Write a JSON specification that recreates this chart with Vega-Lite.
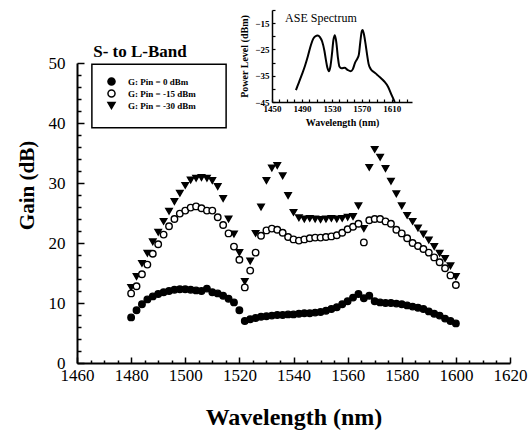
{
  "$schema": "https://vega.github.io/schema/vega-lite/v6.json",
  "width": 433,
  "height": 300,
  "autosize": {"type": "none"},
  "padding": {"left": 77, "top": 63, "right": 22, "bottom": 73},
  "background": "white",
  "config": {
    "view": {"stroke": null},
    "font": "Liberation Serif",
    "axis": {"grid": false, "ticks": true, "domainColor": "black", "tickColor": "black", "tickOpacity": 1, "labelColor": "black", "titleColor": "black", "labelFont": "Liberation Serif", "titleFont": "Liberation Serif"}
  },
  "datasets": {
    "gain": [
      {"series": "G: Pin = -30 dBm", "wavelength": 1480, "gain": 12.6},
      {"series": "G: Pin = -30 dBm", "wavelength": 1482, "gain": 14.4},
      {"series": "G: Pin = -30 dBm", "wavelength": 1484, "gain": 16.6},
      {"series": "G: Pin = -30 dBm", "wavelength": 1486, "gain": 18.3},
      {"series": "G: Pin = -30 dBm", "wavelength": 1488, "gain": 20.2},
      {"series": "G: Pin = -30 dBm", "wavelength": 1490, "gain": 21.8},
      {"series": "G: Pin = -30 dBm", "wavelength": 1492, "gain": 23.6},
      {"series": "G: Pin = -30 dBm", "wavelength": 1494, "gain": 25.3},
      {"series": "G: Pin = -30 dBm", "wavelength": 1496, "gain": 26.9},
      {"series": "G: Pin = -30 dBm", "wavelength": 1498, "gain": 28.3},
      {"series": "G: Pin = -30 dBm", "wavelength": 1500, "gain": 29.6},
      {"series": "G: Pin = -30 dBm", "wavelength": 1502, "gain": 30.5},
      {"series": "G: Pin = -30 dBm", "wavelength": 1504, "gain": 30.8},
      {"series": "G: Pin = -30 dBm", "wavelength": 1506, "gain": 30.9},
      {"series": "G: Pin = -30 dBm", "wavelength": 1508, "gain": 30.8},
      {"series": "G: Pin = -30 dBm", "wavelength": 1510, "gain": 30.4},
      {"series": "G: Pin = -30 dBm", "wavelength": 1512, "gain": 29.4},
      {"series": "G: Pin = -30 dBm", "wavelength": 1514, "gain": 27.4},
      {"series": "G: Pin = -30 dBm", "wavelength": 1516, "gain": 24.0},
      {"series": "G: Pin = -30 dBm", "wavelength": 1518, "gain": 21.5},
      {"series": "G: Pin = -30 dBm", "wavelength": 1520, "gain": 18.4},
      {"series": "G: Pin = -30 dBm", "wavelength": 1522, "gain": 13.6},
      {"series": "G: Pin = -30 dBm", "wavelength": 1524, "gain": 17.0},
      {"series": "G: Pin = -30 dBm", "wavelength": 1526, "gain": 21.6},
      {"series": "G: Pin = -30 dBm", "wavelength": 1528, "gain": 26.0},
      {"series": "G: Pin = -30 dBm", "wavelength": 1530, "gain": 30.4},
      {"series": "G: Pin = -30 dBm", "wavelength": 1532, "gain": 32.5},
      {"series": "G: Pin = -30 dBm", "wavelength": 1534, "gain": 32.9},
      {"series": "G: Pin = -30 dBm", "wavelength": 1536, "gain": 31.2},
      {"series": "G: Pin = -30 dBm", "wavelength": 1538, "gain": 27.9},
      {"series": "G: Pin = -30 dBm", "wavelength": 1540, "gain": 25.1},
      {"series": "G: Pin = -30 dBm", "wavelength": 1542, "gain": 24.2},
      {"series": "G: Pin = -30 dBm", "wavelength": 1544, "gain": 24.0},
      {"series": "G: Pin = -30 dBm", "wavelength": 1546, "gain": 24.1},
      {"series": "G: Pin = -30 dBm", "wavelength": 1548, "gain": 24.0},
      {"series": "G: Pin = -30 dBm", "wavelength": 1550, "gain": 23.9},
      {"series": "G: Pin = -30 dBm", "wavelength": 1552, "gain": 24.0},
      {"series": "G: Pin = -30 dBm", "wavelength": 1554, "gain": 24.1},
      {"series": "G: Pin = -30 dBm", "wavelength": 1556, "gain": 24.0},
      {"series": "G: Pin = -30 dBm", "wavelength": 1558, "gain": 24.1},
      {"series": "G: Pin = -30 dBm", "wavelength": 1560, "gain": 24.3},
      {"series": "G: Pin = -30 dBm", "wavelength": 1562, "gain": 24.4},
      {"series": "G: Pin = -30 dBm", "wavelength": 1564, "gain": 26.2},
      {"series": "G: Pin = -30 dBm", "wavelength": 1566, "gain": 22.4},
      {"series": "G: Pin = -30 dBm", "wavelength": 1568, "gain": 32.6},
      {"series": "G: Pin = -30 dBm", "wavelength": 1570, "gain": 35.6},
      {"series": "G: Pin = -30 dBm", "wavelength": 1572, "gain": 34.3},
      {"series": "G: Pin = -30 dBm", "wavelength": 1574, "gain": 32.4},
      {"series": "G: Pin = -30 dBm", "wavelength": 1576, "gain": 30.3},
      {"series": "G: Pin = -30 dBm", "wavelength": 1578, "gain": 28.2},
      {"series": "G: Pin = -30 dBm", "wavelength": 1580, "gain": 26.2},
      {"series": "G: Pin = -30 dBm", "wavelength": 1582, "gain": 24.6},
      {"series": "G: Pin = -30 dBm", "wavelength": 1584, "gain": 23.6},
      {"series": "G: Pin = -30 dBm", "wavelength": 1586, "gain": 22.5},
      {"series": "G: Pin = -30 dBm", "wavelength": 1588, "gain": 21.5},
      {"series": "G: Pin = -30 dBm", "wavelength": 1590, "gain": 20.5},
      {"series": "G: Pin = -30 dBm", "wavelength": 1592, "gain": 19.4},
      {"series": "G: Pin = -30 dBm", "wavelength": 1594, "gain": 18.3},
      {"series": "G: Pin = -30 dBm", "wavelength": 1596, "gain": 17.4},
      {"series": "G: Pin = -30 dBm", "wavelength": 1598, "gain": 16.2},
      {"series": "G: Pin = -30 dBm", "wavelength": 1600, "gain": 14.4},
      {"series": "G: Pin = -15 dBm", "wavelength": 1480, "gain": 11.6},
      {"series": "G: Pin = -15 dBm", "wavelength": 1482, "gain": 12.8},
      {"series": "G: Pin = -15 dBm", "wavelength": 1484, "gain": 14.8},
      {"series": "G: Pin = -15 dBm", "wavelength": 1486, "gain": 16.4},
      {"series": "G: Pin = -15 dBm", "wavelength": 1488, "gain": 18.2},
      {"series": "G: Pin = -15 dBm", "wavelength": 1490, "gain": 19.8},
      {"series": "G: Pin = -15 dBm", "wavelength": 1492, "gain": 21.4},
      {"series": "G: Pin = -15 dBm", "wavelength": 1494, "gain": 22.8},
      {"series": "G: Pin = -15 dBm", "wavelength": 1496, "gain": 24.0},
      {"series": "G: Pin = -15 dBm", "wavelength": 1498, "gain": 24.9},
      {"series": "G: Pin = -15 dBm", "wavelength": 1500, "gain": 25.4},
      {"series": "G: Pin = -15 dBm", "wavelength": 1502, "gain": 25.9},
      {"series": "G: Pin = -15 dBm", "wavelength": 1504, "gain": 26.1},
      {"series": "G: Pin = -15 dBm", "wavelength": 1506, "gain": 25.8},
      {"series": "G: Pin = -15 dBm", "wavelength": 1508, "gain": 25.4},
      {"series": "G: Pin = -15 dBm", "wavelength": 1510, "gain": 25.4},
      {"series": "G: Pin = -15 dBm", "wavelength": 1512, "gain": 24.3},
      {"series": "G: Pin = -15 dBm", "wavelength": 1514, "gain": 23.0},
      {"series": "G: Pin = -15 dBm", "wavelength": 1516, "gain": 21.6},
      {"series": "G: Pin = -15 dBm", "wavelength": 1518, "gain": 19.4},
      {"series": "G: Pin = -15 dBm", "wavelength": 1520, "gain": 17.2},
      {"series": "G: Pin = -15 dBm", "wavelength": 1522, "gain": 12.6},
      {"series": "G: Pin = -15 dBm", "wavelength": 1524, "gain": 15.4},
      {"series": "G: Pin = -15 dBm", "wavelength": 1526, "gain": 18.4},
      {"series": "G: Pin = -15 dBm", "wavelength": 1528, "gain": 21.2},
      {"series": "G: Pin = -15 dBm", "wavelength": 1530, "gain": 22.1},
      {"series": "G: Pin = -15 dBm", "wavelength": 1532, "gain": 22.4},
      {"series": "G: Pin = -15 dBm", "wavelength": 1534, "gain": 22.2},
      {"series": "G: Pin = -15 dBm", "wavelength": 1536, "gain": 21.7},
      {"series": "G: Pin = -15 dBm", "wavelength": 1538, "gain": 21.0},
      {"series": "G: Pin = -15 dBm", "wavelength": 1540, "gain": 20.6},
      {"series": "G: Pin = -15 dBm", "wavelength": 1542, "gain": 20.4},
      {"series": "G: Pin = -15 dBm", "wavelength": 1544, "gain": 20.6},
      {"series": "G: Pin = -15 dBm", "wavelength": 1546, "gain": 20.8},
      {"series": "G: Pin = -15 dBm", "wavelength": 1548, "gain": 20.9},
      {"series": "G: Pin = -15 dBm", "wavelength": 1550, "gain": 20.9},
      {"series": "G: Pin = -15 dBm", "wavelength": 1552, "gain": 21.0},
      {"series": "G: Pin = -15 dBm", "wavelength": 1554, "gain": 21.1},
      {"series": "G: Pin = -15 dBm", "wavelength": 1556, "gain": 21.3},
      {"series": "G: Pin = -15 dBm", "wavelength": 1558, "gain": 21.7},
      {"series": "G: Pin = -15 dBm", "wavelength": 1560, "gain": 22.3},
      {"series": "G: Pin = -15 dBm", "wavelength": 1562, "gain": 22.7},
      {"series": "G: Pin = -15 dBm", "wavelength": 1564, "gain": 23.2},
      {"series": "G: Pin = -15 dBm", "wavelength": 1566, "gain": 20.1},
      {"series": "G: Pin = -15 dBm", "wavelength": 1568, "gain": 23.8},
      {"series": "G: Pin = -15 dBm", "wavelength": 1570, "gain": 24.0},
      {"series": "G: Pin = -15 dBm", "wavelength": 1572, "gain": 24.0},
      {"series": "G: Pin = -15 dBm", "wavelength": 1574, "gain": 23.6},
      {"series": "G: Pin = -15 dBm", "wavelength": 1576, "gain": 23.2},
      {"series": "G: Pin = -15 dBm", "wavelength": 1578, "gain": 22.2},
      {"series": "G: Pin = -15 dBm", "wavelength": 1580, "gain": 21.6},
      {"series": "G: Pin = -15 dBm", "wavelength": 1582, "gain": 20.8},
      {"series": "G: Pin = -15 dBm", "wavelength": 1584, "gain": 20.0},
      {"series": "G: Pin = -15 dBm", "wavelength": 1586, "gain": 19.5},
      {"series": "G: Pin = -15 dBm", "wavelength": 1588, "gain": 19.0},
      {"series": "G: Pin = -15 dBm", "wavelength": 1590, "gain": 18.4},
      {"series": "G: Pin = -15 dBm", "wavelength": 1592, "gain": 17.6},
      {"series": "G: Pin = -15 dBm", "wavelength": 1594, "gain": 16.8},
      {"series": "G: Pin = -15 dBm", "wavelength": 1596, "gain": 15.8},
      {"series": "G: Pin = -15 dBm", "wavelength": 1598, "gain": 14.6},
      {"series": "G: Pin = -15 dBm", "wavelength": 1600, "gain": 13.0},
      {"series": "G: Pin = 0 dBm", "wavelength": 1480, "gain": 7.6},
      {"series": "G: Pin = 0 dBm", "wavelength": 1482, "gain": 8.8},
      {"series": "G: Pin = 0 dBm", "wavelength": 1484, "gain": 9.8},
      {"series": "G: Pin = 0 dBm", "wavelength": 1486, "gain": 10.6},
      {"series": "G: Pin = 0 dBm", "wavelength": 1488, "gain": 11.1},
      {"series": "G: Pin = 0 dBm", "wavelength": 1490, "gain": 11.5},
      {"series": "G: Pin = 0 dBm", "wavelength": 1492, "gain": 11.8},
      {"series": "G: Pin = 0 dBm", "wavelength": 1494, "gain": 12.0},
      {"series": "G: Pin = 0 dBm", "wavelength": 1496, "gain": 12.2},
      {"series": "G: Pin = 0 dBm", "wavelength": 1498, "gain": 12.3},
      {"series": "G: Pin = 0 dBm", "wavelength": 1500, "gain": 12.3},
      {"series": "G: Pin = 0 dBm", "wavelength": 1502, "gain": 12.2},
      {"series": "G: Pin = 0 dBm", "wavelength": 1504, "gain": 12.1},
      {"series": "G: Pin = 0 dBm", "wavelength": 1506, "gain": 12.0},
      {"series": "G: Pin = 0 dBm", "wavelength": 1508, "gain": 12.4},
      {"series": "G: Pin = 0 dBm", "wavelength": 1510, "gain": 11.8},
      {"series": "G: Pin = 0 dBm", "wavelength": 1512, "gain": 11.6},
      {"series": "G: Pin = 0 dBm", "wavelength": 1514, "gain": 11.2},
      {"series": "G: Pin = 0 dBm", "wavelength": 1516, "gain": 10.7},
      {"series": "G: Pin = 0 dBm", "wavelength": 1518, "gain": 10.1},
      {"series": "G: Pin = 0 dBm", "wavelength": 1520, "gain": 8.8},
      {"series": "G: Pin = 0 dBm", "wavelength": 1522, "gain": 7.0},
      {"series": "G: Pin = 0 dBm", "wavelength": 1524, "gain": 7.3},
      {"series": "G: Pin = 0 dBm", "wavelength": 1526, "gain": 7.5},
      {"series": "G: Pin = 0 dBm", "wavelength": 1528, "gain": 7.7},
      {"series": "G: Pin = 0 dBm", "wavelength": 1530, "gain": 7.8},
      {"series": "G: Pin = 0 dBm", "wavelength": 1532, "gain": 7.9},
      {"series": "G: Pin = 0 dBm", "wavelength": 1534, "gain": 8.0},
      {"series": "G: Pin = 0 dBm", "wavelength": 1536, "gain": 8.0},
      {"series": "G: Pin = 0 dBm", "wavelength": 1538, "gain": 8.1},
      {"series": "G: Pin = 0 dBm", "wavelength": 1540, "gain": 8.1},
      {"series": "G: Pin = 0 dBm", "wavelength": 1542, "gain": 8.2},
      {"series": "G: Pin = 0 dBm", "wavelength": 1544, "gain": 8.3},
      {"series": "G: Pin = 0 dBm", "wavelength": 1546, "gain": 8.3},
      {"series": "G: Pin = 0 dBm", "wavelength": 1548, "gain": 8.4},
      {"series": "G: Pin = 0 dBm", "wavelength": 1550, "gain": 8.5},
      {"series": "G: Pin = 0 dBm", "wavelength": 1552, "gain": 8.7},
      {"series": "G: Pin = 0 dBm", "wavelength": 1554, "gain": 9.0},
      {"series": "G: Pin = 0 dBm", "wavelength": 1556, "gain": 9.3},
      {"series": "G: Pin = 0 dBm", "wavelength": 1558, "gain": 9.8},
      {"series": "G: Pin = 0 dBm", "wavelength": 1560, "gain": 10.3},
      {"series": "G: Pin = 0 dBm", "wavelength": 1562, "gain": 10.9},
      {"series": "G: Pin = 0 dBm", "wavelength": 1564, "gain": 11.5},
      {"series": "G: Pin = 0 dBm", "wavelength": 1566, "gain": 10.8},
      {"series": "G: Pin = 0 dBm", "wavelength": 1568, "gain": 11.2},
      {"series": "G: Pin = 0 dBm", "wavelength": 1570, "gain": 10.3},
      {"series": "G: Pin = 0 dBm", "wavelength": 1572, "gain": 10.1},
      {"series": "G: Pin = 0 dBm", "wavelength": 1574, "gain": 10.0},
      {"series": "G: Pin = 0 dBm", "wavelength": 1576, "gain": 10.0},
      {"series": "G: Pin = 0 dBm", "wavelength": 1578, "gain": 9.9},
      {"series": "G: Pin = 0 dBm", "wavelength": 1580, "gain": 9.8},
      {"series": "G: Pin = 0 dBm", "wavelength": 1582, "gain": 9.6},
      {"series": "G: Pin = 0 dBm", "wavelength": 1584, "gain": 9.4},
      {"series": "G: Pin = 0 dBm", "wavelength": 1586, "gain": 9.2},
      {"series": "G: Pin = 0 dBm", "wavelength": 1588, "gain": 9.0},
      {"series": "G: Pin = 0 dBm", "wavelength": 1590, "gain": 8.6},
      {"series": "G: Pin = 0 dBm", "wavelength": 1592, "gain": 8.2},
      {"series": "G: Pin = 0 dBm", "wavelength": 1594, "gain": 7.9},
      {"series": "G: Pin = 0 dBm", "wavelength": 1596, "gain": 7.4},
      {"series": "G: Pin = 0 dBm", "wavelength": 1598, "gain": 7.0},
      {"series": "G: Pin = 0 dBm", "wavelength": 1600, "gain": 6.6}
    ],
    "ase": [
      {"wavelength": 1482, "power": -40.5},
      {"wavelength": 1486, "power": -37.5},
      {"wavelength": 1490, "power": -34.5},
      {"wavelength": 1494, "power": -31.3},
      {"wavelength": 1498, "power": -27.5},
      {"wavelength": 1502, "power": -23.3},
      {"wavelength": 1505, "power": -21.0},
      {"wavelength": 1508, "power": -20.0},
      {"wavelength": 1511, "power": -19.7},
      {"wavelength": 1514, "power": -20.3},
      {"wavelength": 1517, "power": -22.0},
      {"wavelength": 1520, "power": -25.5},
      {"wavelength": 1522, "power": -29.0},
      {"wavelength": 1524, "power": -32.0},
      {"wavelength": 1526, "power": -33.3},
      {"wavelength": 1528, "power": -31.5},
      {"wavelength": 1530, "power": -27.0},
      {"wavelength": 1532, "power": -21.5},
      {"wavelength": 1534, "power": -19.6},
      {"wavelength": 1536, "power": -22.5},
      {"wavelength": 1538, "power": -28.0},
      {"wavelength": 1540, "power": -31.5},
      {"wavelength": 1543, "power": -32.2},
      {"wavelength": 1547, "power": -32.0},
      {"wavelength": 1551, "power": -32.8},
      {"wavelength": 1555, "power": -33.3},
      {"wavelength": 1558, "power": -32.5},
      {"wavelength": 1561, "power": -30.0},
      {"wavelength": 1564, "power": -28.5},
      {"wavelength": 1566, "power": -27.0},
      {"wavelength": 1568, "power": -22.0},
      {"wavelength": 1570, "power": -18.0},
      {"wavelength": 1571, "power": -17.6},
      {"wavelength": 1573, "power": -19.5},
      {"wavelength": 1575, "power": -23.0},
      {"wavelength": 1577, "power": -27.0},
      {"wavelength": 1579, "power": -30.5},
      {"wavelength": 1582, "power": -32.5},
      {"wavelength": 1586, "power": -33.6},
      {"wavelength": 1590, "power": -34.5},
      {"wavelength": 1595, "power": -35.8},
      {"wavelength": 1600, "power": -37.2},
      {"wavelength": 1605, "power": -39.2},
      {"wavelength": 1610, "power": -42.5},
      {"wavelength": 1614, "power": -45.0}
    ]
  },
  "layer": [
    {
      "data": {"name": "gain"},
      "mark": {"type": "point", "opacity": 1, "fillOpacity": 1, "strokeWidth": 1.4, "size": 42},
      "encoding": {
        "x": {"field": "wavelength", "type": "quantitative", "scale": {"domain": [1460, 1620], "nice": false, "zero": false},
          "axis": {"orient": "bottom", "values": [1460, 1480, 1500, 1520, 1540, 1560, 1580, 1600, 1620], "format": "d", "ticks": false, "title": "Wavelength (nm)", "labelFontSize": 17, "titleFontSize": 24, "titleFontWeight": "bold", "domainWidth": 2, "labelPadding": 4, "titlePadding": 22, "labelFlush": false}},
        "y": {"field": "gain", "type": "quantitative", "scale": {"domain": [0, 50], "nice": false, "zero": false},
          "axis": {"orient": "left", "values": [0, 10, 20, 30, 40, 50], "format": "d", "ticks": false, "title": "Gain (dB)", "labelFontSize": 17, "titleFontSize": 21, "titleFontWeight": "bold", "titleX": -40, "titleY": 122, "titleAngle": -90, "titleBaseline": "bottom", "titleAlign": "center", "domainWidth": 2, "labelPadding": 12, "labelFlush": false}},
        "shape": {"field": "series", "type": "nominal",
          "scale": {"domain": ["G: Pin = 0 dBm", "G: Pin = -15 dBm", "G: Pin = -30 dBm"], "range": ["circle", "circle", "triangle-down"]},
          "legend": {"orient": "none", "legendX": 30, "legendY": 14, "title": null, "labelFont": "Liberation Serif", "labelFontSize": 9, "labelFontWeight": "bold", "labelColor": "black", "symbolSize": 50, "symbolStrokeWidth": 1.5, "rowPadding": -3, "labelOffset": 12}},
        "fill": {"field": "series", "type": "nominal",
          "scale": {"domain": ["G: Pin = 0 dBm", "G: Pin = -15 dBm", "G: Pin = -30 dBm"], "range": ["black", "white", "black"]},
          "legend": {"orient": "none", "legendX": 30, "legendY": 14, "title": null, "labelFont": "Liberation Serif", "labelFontSize": 9, "labelFontWeight": "bold", "labelColor": "black", "symbolSize": 50, "symbolStrokeWidth": 1.5, "rowPadding": -3, "labelOffset": 12}},
        "stroke": {"field": "series", "type": "nominal",
          "scale": {"domain": ["G: Pin = 0 dBm", "G: Pin = -15 dBm", "G: Pin = -30 dBm"], "range": ["black", "black", "black"]},
          "legend": {"orient": "none", "legendX": 30, "legendY": 14, "title": null, "labelFont": "Liberation Serif", "labelFontSize": 9, "labelFontWeight": "bold", "labelColor": "black", "symbolSize": 50, "symbolStrokeWidth": 1.5, "rowPadding": -3, "labelOffset": 12}}
      }
    },
    {
      "data": {"values": [{"box": "legend"}]},
      "mark": {"type": "rect", "filled": false, "stroke": "black", "strokeWidth": 1.5},
      "encoding": {
        "x": {"datum": 1465.5, "type": "quantitative", "scale": {"domain": [1460, 1620], "nice": false, "zero": false}, "axis": null},
        "x2": {"datum": 1515.1},
        "y": {"datum": 49.8, "type": "quantitative", "scale": {"domain": [0, 50], "nice": false, "zero": false}, "axis": null},
        "y2": {"datum": 39.2}
      }
    },
    {
      "data": {"values": [{"label": "S- to L-Band"}]},
      "mark": {"type": "text", "font": "Liberation Serif", "fontSize": 17, "fontWeight": "bold", "align": "left", "baseline": "middle", "color": "black"},
      "encoding": {
        "text": {"field": "label"},
        "x": {"datum": 1466.0, "type": "quantitative", "scale": {"domain": [1460, 1620], "nice": false, "zero": false}, "axis": null},
        "y": {"datum": 51.8, "type": "quantitative", "scale": {"domain": [0, 50], "nice": false, "zero": false}, "axis": null}
      }
    },
    {
      "data": {"name": "ase"},
      "mark": {"type": "line", "color": "black", "strokeWidth": 2, "interpolate": "monotone"},
      "encoding": {
        "x": {"field": "wavelength", "type": "quantitative", "scale": {"domain": [1450, 1637], "range": [195, 335], "nice": false, "zero": false},
          "axis": {"orient": "bottom", "offset": -261, "values": [1450, 1490, 1530, 1570, 1610], "format": "d", "ticks": false, "title": "Wavelength (nm)", "labelFontSize": 9, "labelFontWeight": "bold", "titleFontSize": 10, "titleFontWeight": "bold", "domainWidth": 1.5, "labelPadding": 2, "titlePadding": 4, "labelFlush": false, "labelOverlap": false}},
        "y": {"field": "power", "type": "quantitative", "scale": {"domain": [-45, -10], "range": [39, -53], "nice": false, "zero": false},
          "axis": {"orient": "left", "offset": -195, "values": [-45, -35, -25, -15], "format": "d", "ticks": false, "title": "Power Level (dBm)", "labelFontSize": 9, "labelFontWeight": "bold", "titleFontSize": 10, "titleFontWeight": "bold", "domainWidth": 1.5, "labelPadding": 3, "titlePadding": 5, "labelFlush": false}}
      }
    },
    {
      "data": {"values": [{"label": "ASE Spectrum"}]},
      "mark": {"type": "text", "font": "Liberation Serif", "fontSize": 12, "align": "left", "baseline": "middle", "color": "black"},
      "encoding": {
        "text": {"field": "label"},
        "x": {"datum": 1467.5, "type": "quantitative", "scale": {"domain": [1450, 1637], "range": [195, 335], "nice": false, "zero": false}, "axis": null},
        "y": {"datum": -13.1, "type": "quantitative", "scale": {"domain": [-45, -10], "range": [39, -53], "nice": false, "zero": false}, "axis": null}
      }
    },
    {
      "data": {"name": "gain"},
      "mark": {"type": "point", "opacity": 0},
      "encoding": {
        "x": {"field": "wavelength", "type": "quantitative", "scale": {"domain": [1460, 1620], "nice": false, "zero": false},
          "axis": {"orient": "top", "offset": -300, "values": [1460, 1465, 1470, 1475, 1480, 1485, 1490, 1495, 1500, 1505, 1510, 1515, 1520, 1525, 1530, 1535, 1540, 1545, 1550, 1555, 1560, 1565, 1570, 1575, 1580, 1585, 1590, 1595, 1600, 1605, 1610, 1615, 1620], "labelExpr": "''", "domainOpacity": 0, "title": null, "ticks": true, "tickColor": "black", "tickOpacity": 1, "tickSize": {"condition": {"test": "datum.value % 20 == 0", "value": 6}, "value": 3}, "tickWidth": 1.5}},
        "y": {"field": "gain", "type": "quantitative", "scale": {"domain": [0, 50], "nice": false, "zero": false},
          "axis": {"orient": "right", "offset": -433, "values": [0, 2, 4, 6, 8, 10, 12, 14, 16, 18, 20, 22, 24, 26, 28, 30, 32, 34, 36, 38, 40, 42, 44, 46, 48, 50], "labelExpr": "''", "domainOpacity": 0, "title": null, "ticks": true, "tickColor": "black", "tickOpacity": 1, "tickSize": {"condition": {"test": "datum.value % 10 == 0", "value": 7}, "value": 4}, "tickWidth": 1.5}}
      }
    },
    {
      "data": {"name": "ase"},
      "mark": {"type": "point", "opacity": 0},
      "encoding": {
        "x": {"field": "wavelength", "type": "quantitative", "scale": {"domain": [1450, 1637], "range": [195, 335], "nice": false, "zero": false},
          "axis": {"orient": "top", "offset": -39, "values": [1450, 1460, 1470, 1480, 1490, 1500, 1510, 1520, 1530, 1540, 1550, 1560, 1570, 1580, 1590, 1600, 1610, 1620, 1630], "labelExpr": "''", "domainOpacity": 0, "title": null, "ticks": true, "tickColor": "black", "tickOpacity": 1, "tickSize": 3, "tickWidth": 1.2}},
        "y": {"field": "power", "type": "quantitative", "scale": {"domain": [-45, -10], "range": [39, -53], "nice": false, "zero": false},
          "axis": {"orient": "right", "offset": -238, "values": [-45, -40, -35, -30, -25, -20, -15, -10], "labelExpr": "''", "domainOpacity": 0, "title": null, "ticks": true, "tickColor": "black", "tickOpacity": 1, "tickSize": 3, "tickWidth": 1.2}}
      }
    }
  ],
  "resolve": {"scale": {"x": "independent", "y": "independent", "shape": "shared", "fill": "shared", "stroke": "shared"}}
}
